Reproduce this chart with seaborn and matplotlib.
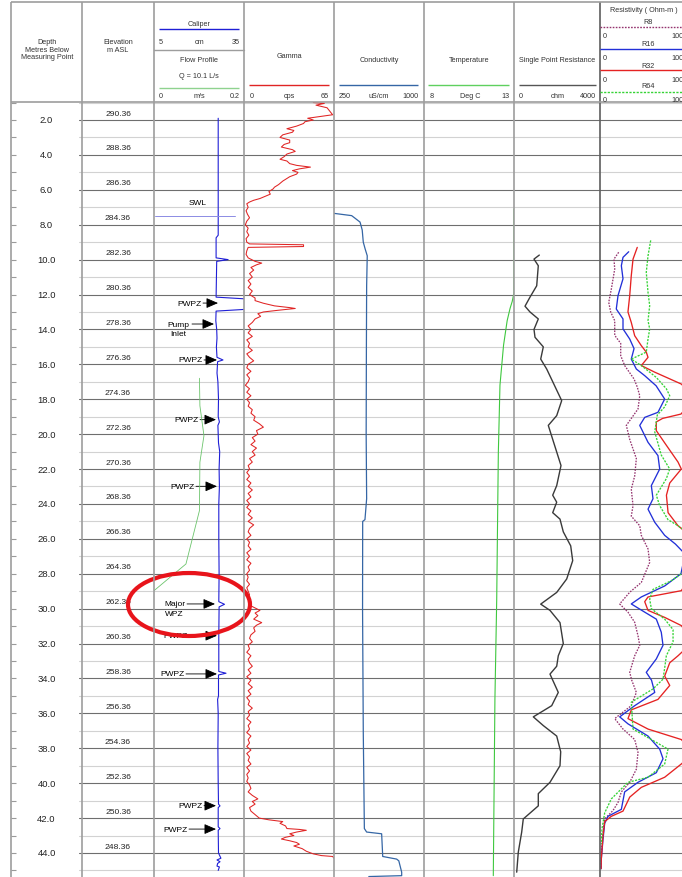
import matplotlib
matplotlib.use("Agg")
import matplotlib.pyplot as plt
import matplotlib.transforms as mtransforms
from matplotlib.patches import Ellipse
import seaborn as sns

# ---------------- log data (depth in metres below measuring point) ----------------
ELEV_DATUM = 292.36          # elevation (m ASL) of the measuring point
SWL_DEPTH = 7.48             # static water level

CALIPER_DEPTH = [1.9, 8.6, 8.75, 9.9, 10.0, 10.1, 12.15, 12.25, 12.85, 12.95, 13.5, 14.0, 14.5,
                 15.0, 15.6, 15.75, 15.85, 16.5, 17.0, 18.0, 19.0, 19.3, 19.5, 20.5, 21.0, 22.0,
                 23.0, 24.0, 26.0, 28.0, 29.6, 29.75, 29.9, 31.5, 33.6, 33.7, 33.8, 35.0, 35.2,
                 36.0, 38.0, 40.0, 41.2, 41.3, 41.4, 42.5, 42.6, 42.7, 44.0, 44.3, 44.4, 44.5,
                 44.6, 44.75, 44.8, 45.0]
CALIPER_CM = [26.4, 26.4, 25.7, 25.7, 29.7, 25.9, 25.7, 35.5, 35.5, 25.7, 25.6, 25.9, 26.0,
              25.8, 26.0, 28.0, 26.2, 26.0, 26.3, 26.5, 26.4, 26.8, 26.3, 26.5, 26.9, 26.7,
              26.8, 26.6, 26.6, 26.7, 26.6, 28.5, 26.7, 26.6, 26.6, 29.0, 26.5, 26.5, 26.2,
              26.4, 26.3, 26.4, 26.5, 27.0, 26.4, 26.4, 27.0, 26.4, 26.5, 27.3, 26.0, 27.0,
              26.2, 26.0, 26.8, 26.4]

FLOW_DEPTH = [16.80, 18.37, 20.09, 21.61, 24.38, 27.44, 28.97]
FLOW_MS = [0.101, 0.102, 0.111, 0.102, 0.101, 0.071, 0.0]

GAMMA_DEPTH = [
    1.00, 1.05, 1.15, 1.30, 1.50, 1.70, 1.80, 1.90, 2.00, 2.10, 2.20, 2.35, 2.50, 2.60, 2.70, 2.85, 3.00,
    3.15, 3.30, 3.40, 3.55, 3.70, 3.80, 3.95, 4.10, 4.25, 4.35, 4.50, 4.60, 4.70, 4.80, 4.90, 5.00,
    5.10, 5.25, 5.40, 5.50, 5.70, 5.85, 5.95, 6.10, 6.25, 6.35, 6.45, 6.50, 6.60, 6.70, 6.80,
    7.0, 7.2, 7.4, 7.6, 7.8, 8.0, 8.2, 8.4, 8.6, 8.8, 9.0, 9.10, 9.15, 9.25, 9.30,
    9.5, 9.7, 9.9, 10.1, 10.2, 10.3, 10.45, 10.6, 10.8, 11.0, 11.2, 11.4, 11.6, 11.8, 12.0,
    12.2, 12.35, 12.5, 12.65, 12.75, 12.8, 12.9, 13.0, 13.1, 13.25, 13.4, 13.6, 13.8,
    14.0, 14.2, 14.4, 14.6, 14.8, 15.0, 15.2, 15.4, 15.6, 15.8,
    16.0, 16.2, 16.4, 16.6, 16.8, 17.0, 17.2, 17.4, 17.6, 17.8,
    18.0, 18.2, 18.4, 18.6, 18.8, 19.0, 19.2, 19.4, 19.6, 19.8,
    20.0, 20.2, 20.4, 20.6, 20.8, 21.0, 21.2, 21.4, 21.6, 21.8,
    22.0, 22.2, 22.4, 22.6, 22.8, 23.0, 23.2, 23.4, 23.6, 23.8,
    24.0, 24.2, 24.4, 24.6, 24.8, 25.0, 25.2, 25.4, 25.6, 25.8,
    26.0, 26.2, 26.4, 26.6, 26.8, 27.0, 27.2, 27.4, 27.6, 27.8,
    28.0, 28.2, 28.4, 28.6, 28.8, 29.0, 29.2, 29.4, 29.6, 29.8,
    30.0, 30.1, 30.25, 30.4, 30.6, 30.8, 30.95, 31.1, 31.3,
    31.5, 31.7, 31.9, 32.1, 32.3, 32.5, 32.7, 32.9, 33.1, 33.3,
    33.5, 33.7, 33.9, 34.1, 34.3, 34.5, 34.7, 34.9, 35.1, 35.3,
    35.5, 35.7, 35.9, 36.1, 36.3, 36.5, 36.7, 36.9, 37.1, 37.3,
    37.5, 37.7, 37.9, 38.1, 38.3, 38.5, 38.7, 38.9, 39.1, 39.3,
    39.5, 39.7, 39.9, 40.1, 40.3, 40.5, 40.7,
    40.9, 41.05, 41.2, 41.4, 41.6, 41.8, 42.0,
    42.1, 42.2, 42.3, 42.45, 42.6, 42.65, 42.7, 42.8, 42.9, 43.0, 43.1, 43.2, 43.3, 43.4,
    43.5, 43.6, 43.75, 43.9, 44.05, 44.15, 44.2, 44.4, 45.4]
GAMMA_CPS = [
    50, 58, 52, 60, 62, 64, 55, 46, 50, 44, 43, 38, 31, 36, 35, 28, 26,
    33, 33, 29, 27, 35, 37, 31, 29, 26, 31, 33, 38, 48, 40, 35, 39,
    38, 33, 30, 28, 25, 22, 21, 18, 19, 16, 13, 11.5, 7, 4, 2,
    3, 1.5, 2.5, 4, 2, 1, 3, 2, 3.5, 1.5, 2, 4, 43, 43, 3,
    2, 1.5, 3, 8, 12.8, 9, 5, 7, 4, 6, 3, 5, 3, 6, 4,
    8, 8, 14, 22, 33, 37, 25, 14, 10, 12, 8, 6, 3,
    5, 3, 6, 2, 4, 3, 6, 2, 4, 7,
    3, 2, 5, 2, 4, 3, 1, 4, 2, 5,
    2, 4, 3, 6, 5, 8, 7, 11, 14, 9,
    10, 6, 8, 5, 9, 6, 8, 4, 6, 3,
    4, 2, 4, 2, 5, 3, 6, 3, 5, 2,
    4, 2, 5, 3, 6, 3, 7, 4, 3, 5,
    2, 4, 3, 5, 2, 4, 2, 5, 3, 4,
    2, 3, 2, 4, 2, 3, 4, 3, 5, 4,
    9, 11.5, 8, 10, 7, 12.8, 9, 7, 8,
    5, 4, 6, 3, 4, 2, 5, 3, 4, 6,
    3, 5, 2, 5, 3, 6, 3, 5, 2, 4,
    3, 6, 3, 4, 2, 5, 3, 4, 2, 5,
    3, 4, 2, 5, 2, 4, 3, 5, 2, 4,
    2, 3, 2, 4, 5, 3, 6,
    10, 6, 8, 4, 5, 8, 11,
    18, 28, 26, 30, 31, 40, 45, 38, 33, 36, 30, 27, 33, 38,
    40, 36, 42, 45, 50, 56, 64, 66, 66]

COND_DEPTH = [7.35, 7.48, 7.6, 7.85, 8.3, 9.0, 9.4, 9.78, 11.5, 15.0, 20.0, 23.7, 24.9, 25.0,
              30.0, 37.1, 42.6, 42.8, 42.9, 44.2, 44.35, 44.45, 45.1, 45.3, 45.35]
COND_USCM = [250, 397, 420, 467, 485, 494, 510, 527, 522, 520, 518, 522, 508, 489,
             488, 494, 503, 522, 647, 656, 772, 790, 814, 814, 540]

TEMP_DEPTH = [7.1, 11.9, 12.4, 12.8, 13.5, 14.9, 17.2, 21.05, 24.7, 29.45, 35.2, 45.3]
TEMP_C = [13.0, 13.0, 12.9, 12.78, 12.62, 12.42, 12.22, 12.13, 12.09, 12.04, 11.94, 11.85]

SPR_DEPTH = [9.74, 9.97, 10.35, 11.5, 12.15, 12.67, 13.0, 13.4, 14.0, 14.45, 15.0, 15.7, 16.27,
             18.08, 18.94, 19.5, 20.3, 21.8, 22.95, 23.5, 23.9, 24.5, 24.87, 25.6, 26.4, 27.25,
             28.3, 29.07, 29.74, 30.1, 30.8, 32.0, 32.7, 33.3, 33.75, 34.8, 35.56, 36.2, 36.7,
             37.3, 38.2, 39.0, 39.95, 40.6, 41.3, 42.05, 42.8, 43.95, 45.1]
SPR_OHM = [1177, 930, 1130, 1056, 744, 512, 744, 1130, 930, 977, 1363, 1242, 1521,
           2218, 1986, 1595, 1800, 2186, 1986, 1800, 1986, 1800, 2139, 2293, 2637, 2730,
           2451, 1986, 1242, 1674, 2139, 2293, 2060, 1986, 1674, 2060, 1753, 898, 1363,
           1986, 2172, 2139, 1674, 1130, 1130, 432, 358, 200, 126]

R8_DEPTH = [9.58, 9.97, 10.54, 11.69, 12.45, 13.0, 13.5, 14.34, 14.8, 15.5, 16.07, 16.84, 17.3,
            17.8, 18.56, 19.5, 20.3, 21.4, 22.4, 23.15, 24.1, 24.7, 25.25, 25.8, 26.58, 27.35,
            28.5, 29.06, 29.73, 30.2, 30.78, 31.55, 32.1, 32.7, 33.65, 34.1, 34.8, 35.56, 36.3,
            36.9, 37.5, 38.23, 39.2, 39.95, 40.5, 41.1, 41.57, 42.05, 42.8, 43.95, 44.9]
R8_OHMM = [203, 152, 160, 123, 95, 116, 160, 160, 225, 225, 268, 370, 405,
           432, 413, 286, 323, 395, 377, 340, 359, 340, 432, 449, 522, 540,
           449, 323, 214, 304, 377, 413, 432, 377, 323, 345, 395, 340, 160,
           250, 377, 413, 395, 323, 232, 196, 141, 51, 33, 14, 10]

R16_DEPTH = [9.55, 9.87, 10.35, 11.1, 12.06, 12.83, 13.4, 13.97, 14.55, 15.1, 15.7, 16.27, 16.65,
             17.23, 17.99, 18.75, 19.04, 19.5, 20.47, 21.23, 22.0, 22.95, 23.7, 24.3, 25.05, 25.8,
             26.3, 26.9, 27.5, 28.0, 28.7, 29.33, 29.73, 30.2, 30.6, 31.35, 32.1, 32.88, 33.65,
             34.1, 34.8, 35.56, 36.2, 36.6, 37.3, 38.05, 38.6, 39.4, 39.95, 40.5, 41.5, 41.9,
             42.3, 43.2, 44.35, 44.9]
R16_OHMM = [312, 250, 232, 250, 196, 177, 250, 250, 323, 370, 340, 395, 486,
            610, 703, 630, 486, 432, 522, 630, 649, 558, 576, 522, 595, 703,
            820, 930, 900, 880, 703, 449, 340, 486, 612, 666, 685, 612, 503,
            560, 595, 377, 214, 304, 522, 649, 685, 612, 413, 268, 232, 87,
            51, 33, 14, 12]

R32_DEPTH = [9.3, 9.97, 10.92, 12.06, 13.0, 13.6, 14.36, 14.93, 15.3, 15.6, 16.07, 16.45, 17.13,
             17.6, 18.3, 18.85, 19.1, 19.3, 19.8, 20.5, 21.6, 22.0, 22.8, 23.5, 24.5, 25.25,
             25.6, 26.5, 27.5, 28.6, 28.97, 29.33, 29.6, 30.1, 30.5, 30.97, 31.5, 32.2, 32.7,
             33.1, 33.86, 34.4, 35.2, 35.8, 36.3, 36.9, 37.5, 38.0, 38.5, 38.9, 39.66, 40.24,
             40.8, 41.6, 41.9, 42.2, 43.0, 44.35, 44.9]
R32_OHMM = [405, 359, 340, 323, 304, 340, 377, 449, 503, 522, 449, 595, 884,
            970, 970, 880, 680, 612, 612, 703, 848, 884, 758, 722, 740, 848,
            930, 990, 990, 930, 884, 522, 486, 522, 703, 884, 960, 950, 848,
            758, 703, 758, 630, 340, 304, 522, 884, 970, 970, 884, 703, 449,
            323, 250, 123, 51, 33, 14, 12]

R64_DEPTH = [8.9, 9.78, 10.73, 11.88, 12.64, 13.5, 13.97, 14.55, 15.3, 15.7, 16.07, 16.75, 17.4,
             17.8, 18.44, 18.9, 19.87, 21.2, 22.0, 22.55, 23.5, 24.1, 24.9, 25.25, 25.6, 26.5,
             27.4, 28.0, 28.4, 28.9, 29.45, 30.0, 30.6, 31.2, 31.9, 32.7, 33.4, 34.04, 34.6,
             35.36, 36.9, 37.5, 38.05, 38.9, 39.66, 39.95, 40.9, 41.7, 42.6, 43.5]
R64_OHMM = [551, 522, 503, 522, 540, 522, 540, 522, 503, 340, 449, 612, 721,
            758, 703, 623, 595, 666, 758, 721, 612, 649, 739, 848, 940, 990,
            960, 884, 775, 576, 540, 558, 703, 794, 794, 721, 703, 685, 576,
            340, 359, 558, 739, 703, 522, 304, 123, 51, 22, 14]

# water-producing zones marked against the caliper log
WPZ_LABELS = ["PWPZ", "PWPZ", "PWPZ", "PWPZ", "Major\nWPZ", "PWPZ", "PWPZ", "PWPZ", "PWPZ"]
WPZ_DEPTHS = [12.49, 15.75, 19.17, 22.99, 29.73, 31.55, 33.74, 41.29, 42.63]
PUMP_INLET_DEPTH = 13.69

# ---------------- figure layout (pixels) ----------------
sns.set_theme(style="white")
plt.rcParams["font.family"] = ["Liberation Sans", "DejaVu Sans"]

W, H = 682, 878
fig = plt.figure(figsize=(W / 100, H / 100), dpi=100)
fig.patch.set_facecolor("white")

HDR_TOP, TOP, BOT = 3, 103, 878
DEPTH_TOP, DEPTH_BOT = 0.969, 45.376
EDGES = [11, 82, 154, 244, 334, 424, 514, 600, 692]

GRID_MAJOR = "#6e6e6e"
GRID_MINOR = "#d2d2d2"
TXT = "#333333"


def track(x0, x1):
    ax = fig.add_axes([x0 / W, 1 - BOT / H, (x1 - x0) / W, (BOT - TOP) / H])
    ax.patch.set_alpha(0)
    for s in ax.spines.values():
        s.set_visible(False)
    return ax


def finish(ax, xlim=None):
    if xlim is not None:
        ax.set_xlim(*xlim)
    ax.set_ylim(DEPTH_BOT, DEPTH_TOP)
    ax.set_xticks([])
    ax.set_yticks([])
    ax.set_xlabel("")
    ax.set_ylabel("")


def trace(ax, x, y, color, lw, ls="-"):
    sns.lineplot(x=x, y=y, ax=ax, sort=False, estimator=None, color=color,
                 linewidth=lw, linestyle=ls, legend=False)


# depth column with inward metre ticks
ax_depth = track(EDGES[0], EDGES[1])
finish(ax_depth, (0, 1))
ax_depth.set_yticks(range(1, 46))
ax_depth.tick_params(axis="y", direction="in", length=3.5, width=0.8, color="#9a9a9a",
                     left=True, labelleft=False)
for d in range(2, 46, 2):
    ax_depth.text(0.5, d, f"{d:.1f}", ha="center", va="center", fontsize=6.8, color="#222222")

# elevation column; grid lines run from here across every track
ax_elev = track(EDGES[1], EDGES[2])
finish(ax_elev, (0, 1))
span = EDGES[2] - EDGES[1]
for d in range(1, 46):
    ax_elev.axhline(d, xmin=-3 / span, xmax=(EDGES[-1] - EDGES[1]) / span,
                    color=GRID_MAJOR if d % 2 == 0 else GRID_MINOR, lw=0.8,
                    clip_on=False, zorder=0)
for d in range(2, 46, 2):
    ax_elev.text(0.5, d - 0.4, f"{ELEV_DATUM - d:.2f}", ha="center", va="center",
                 fontsize=6.1, color="#222222")

# caliper + flow profile
ax_cal = track(EDGES[2], EDGES[3])
trace(ax_cal, CALIPER_CM, CALIPER_DEPTH, "#1f1fd6", 0.8)
finish(ax_cal, (5, 35))
ax_flow = ax_cal.twiny()
ax_flow.patch.set_alpha(0)
for s in ax_flow.spines.values():
    s.set_visible(False)
trace(ax_flow, FLOW_MS, FLOW_DEPTH, "#6cc46c", 0.6)
finish(ax_flow, (0, 0.2))

# gamma
ax_gam = track(EDGES[3], EDGES[4])
trace(ax_gam, GAMMA_CPS, GAMMA_DEPTH, "#e02424", 0.75)
finish(ax_gam, (0, 65))

# conductivity
ax_cond = track(EDGES[4], EDGES[5])
trace(ax_cond, COND_USCM, COND_DEPTH, "#3566a5", 0.9)
finish(ax_cond, (250, 1000))

# temperature
ax_temp = track(EDGES[5], EDGES[6])
trace(ax_temp, TEMP_C, TEMP_DEPTH, "#3fc83f", 0.8)
finish(ax_temp, (8, 13))

# single point resistance
ax_spr = track(EDGES[6], EDGES[7])
trace(ax_spr, SPR_OHM, SPR_DEPTH, "#3a3a3a", 1.0)
finish(ax_spr, (0, 4000))

# normal resistivity suite
RES_STYLE = {"R8": ("#94336e", (0, (1.2, 1.0))), "R16": ("#2230d8", "-"),
             "R32": ("#e52222", "-"), "R64": ("#36d336", (0, (1.6, 1.0)))}
ax_res = track(EDGES[7], EDGES[8])
for name, x, y in [("R8", R8_OHMM, R8_DEPTH), ("R16", R16_OHMM, R16_DEPTH),
                   ("R32", R32_OHMM, R32_DEPTH), ("R64", R64_OHMM, R64_DEPTH)]:
    col, ls = RES_STYLE[name]
    trace(ax_res, x, y, col, 0.95, ls)
finish(ax_res, (0, 1000))

# annotations on the caliper track (x in pixels of the track, y in depth)
cal_tr = mtransforms.blended_transform_factory(ax_cal.transAxes, ax_cal.transData)


def fx(px):
    return (px - EDGES[2]) / (EDGES[3] - EDGES[2])


ARROW = dict(arrowstyle="-|>,head_length=0.6,head_width=0.26", color="black", lw=0.6,
             shrinkA=0, shrinkB=0, mutation_scale=12)
TEXT_RIGHT = [202, 203, 199, 195, 187, 188, 185, 203, 188]
TIP_X = [218, 217, 216, 217, 215, 217, 217, 216, 216]
for lab, d, tr_px, tip in zip(WPZ_LABELS, WPZ_DEPTHS, TEXT_RIGHT, TIP_X):
    if "\n" in lab:
        top, bottom = lab.split("\n")
        ax_cal.text(fx(174.5), d, top, transform=cal_tr, ha="center", va="center",
                    fontsize=6.0, color="black", clip_on=False)
        ax_cal.text(fx(174.5), d + 0.55, bottom, transform=cal_tr, ha="center", va="center",
                    fontsize=6.0, color="black", clip_on=False)
        start = tr_px
    else:
        ax_cal.text(fx(tr_px), d, lab, transform=cal_tr, ha="right", va="center",
                    fontsize=6.0, color="black", clip_on=False)
        start = tr_px + 1
    ax_cal.annotate("", xy=(fx(tip), d), xytext=(fx(start), d), xycoords=cal_tr,
                    textcoords=cal_tr, arrowprops=ARROW, annotation_clip=False)

ax_cal.text(fx(178), PUMP_INLET_DEPTH, "Pump", transform=cal_tr, ha="center", va="center",
            fontsize=6.0, color="black")
ax_cal.text(fx(178.5), PUMP_INLET_DEPTH + 0.55, "Inlet", transform=cal_tr, ha="center",
            va="center", fontsize=6.0, color="black")
ax_cal.annotate("", xy=(fx(214), PUMP_INLET_DEPTH), xytext=(fx(192), PUMP_INLET_DEPTH),
                xycoords=cal_tr, textcoords=cal_tr, arrowprops=ARROW)

ax_cal.plot([fx(155), fx(235)], [SWL_DEPTH, SWL_DEPTH], transform=cal_tr,
            color="#8c8ce4", lw=0.7)
ax_cal.text(fx(198), SWL_DEPTH - 0.78, "SWL", transform=cal_tr, ha="center", va="center",
            fontsize=6.0, color="black")

# ---------------- header, frame and highlight (pixel overlay) ----------------
ov = fig.add_axes([0, 0, 1, 1])
ov.set_xlim(0, W)
ov.set_ylim(H, 0)
ov.axis("off")
ov.patch.set_alpha(0)

FRAME = "#9d9d9d"
for x in EDGES[:-1]:
    ov.plot([x, x], [HDR_TOP, BOT], color="#5e5e5e" if x == 600 else FRAME, lw=1.2,
            solid_capstyle="butt")
for y in (HDR_TOP, TOP):
    ov.plot([EDGES[0], EDGES[-1]], [y, y], color=FRAME, lw=1.2, solid_capstyle="butt")
ov.plot([EDGES[2], EDGES[3]], [51, 51], color=FRAME, lw=1.0)


def htext(x, y, s, ha="center"):
    ov.text(x, y, s, ha=ha, va="center", fontsize=5.2, color=TXT)


def scale_row(x0, x1, y, lo, unit, hi):
    htext(x0, y, lo, "left")
    htext((x0 + x1) / 2, y, unit)
    htext(x1, y, hi, "right")


def hline(x0, x1, y, color, ls="-", lw=1.0):
    ov.plot([x0, x1], [y, y], color=color, lw=lw, ls=ls, solid_capstyle="butt")


htext(47, 43, "Depth")
htext(47, 50.5, "Metres Below")
htext(47, 57.5, "Measuring Point")
htext(118, 43, "Elevation")
htext(118, 50, "m ASL")

htext(199, 24, "Caliper")
hline(159, 239, 30, "#1f1fd6")
scale_row(159, 240, 42, "5", "cm", "35")
htext(199, 60, "Flow Profile")
htext(199, 76, "Q = 10.1 L/s")
hline(159, 239, 89, "#8fd28f")
scale_row(159, 240, 97, "0", "m/s", "0.2")

htext(289, 57, "Gamma")
hline(249, 329, 86, "#e02424")
scale_row(250, 329, 97, "0", "cps", "65")

htext(379, 60, "Conductivity")
hline(339, 418, 86, "#3566a5")
scale_row(339, 419, 97, "250", "uS/cm", "1000")

htext(469, 60, "Temperature")
hline(428, 509, 86, "#5fd05f")
scale_row(430, 510, 97, "8", "Deg C", "13")

htext(557, 60, "Single Point Resistance")
hline(519, 596, 86, "#555555")
scale_row(519, 596, 97, "0", "ohm", "4000")

htext(644, 11, "Resistivity ( Ohm-m )")
for name, y_lab, y_line, y_scale in [("R8", 22, 28, 36), ("R16", 44, 50, 58),
                                     ("R32", 66, 71, 80), ("R64", 87, 93, 100)]:
    col, ls = RES_STYLE[name]
    htext(648, y_lab, name)
    hline(600, 692, y_line, col, ls=ls, lw=1.0)
    htext(603, y_scale, "0", "left")
    htext(688, y_scale, "1000", "right")

ov.add_patch(Ellipse((189, 605.5), 122, 63, fill=False, ec="#e8141b", lw=3.0))

fig.savefig("out.png", dpi=100)
